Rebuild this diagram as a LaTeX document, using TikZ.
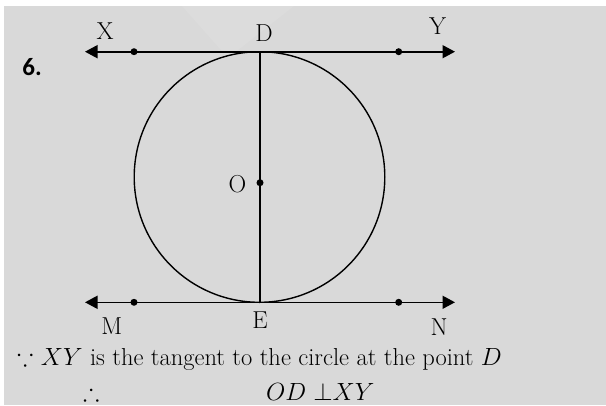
\documentclass[tikz,border=0pt]{standalone}
\usepackage{amssymb}
\usepackage{fontspec}
\newfontfamily\numfont{Carlito}
\usetikzlibrary{arrows.meta}
\definecolor{bgc}{RGB}{217,217,217}
\definecolor{wmk}{RGB}{220,220,220}
\begin{document}
\begin{tikzpicture}[x=1pt,y=-1pt,
  lbl/.style={inner sep=0pt,font=\fontsize{24.5}{24.5}\selectfont},
  txt/.style={inner sep=0pt,anchor=base west,font=\fontsize{24.5}{24.5}\selectfont},
  ln/.style={line width=1.6pt},
  bothtips/.style={{Triangle[length=12.5pt,width=13pt]}-{Triangle[length=12.5pt,width=13pt]}},
  dotc/.style={circle,fill=black,inner sep=0pt,minimum size=7pt}]
\useasboundingbox (0,0) rectangle (606,405);
\fill[white] (0,0) rectangle (606,405);
\fill[bgc] (4,6) rectangle (606,405);
\fill[wmk] (182,6) -- (228,58) -- (294,6) -- cycle;
% points
\coordinate (XL) at (85,51.7);
\coordinate (XR) at (455,51.7);
\coordinate (ML) at (85,302.3);
\coordinate (MR) at (455,302.3);
\coordinate (D) at (260,51.7);
\coordinate (E) at (260,302.3);
\coordinate (C) at (259.5,177);
% circle
\draw[line width=1.4pt] (C) circle (125.3);
% tangents
\draw[ln,bothtips] (XL) -- (XR);
\draw[ln,bothtips] (ML) -- (MR);
% diameter
\draw[line width=1.8pt] (D) -- (E);
% dots
\node[dotc] (P1) at (134,51.7) {};
\node[dotc] (P2) at (398.7,51.7) {};
\node[dotc] (P3) at (134,302.3) {};
\node[dotc] (P4) at (398.7,302.3) {};
\node[dotc] (O) at (260,182.7) {};
% labels
\node[lbl] (lX) at (105,31) {X};
\node[lbl] (lD) at (264,33.5) {D};
\node[lbl] (lY) at (437.7,26.5) {Y};
\node[lbl] (lO) at (237.5,183.7) {O};
\node[lbl] (lM) at (111.7,326.5) {M};
\node[lbl] (lE) at (260,320) {E};
\node[lbl] (lN) at (439,327.5) {N};
\node[inner sep=0pt,font=\fontsize{25}{25}\selectfont\numfont\bfseries] (six) at (32,67.5) {6.};
% text
\node[txt] (T1) at (17,365) {$\because$ $XY$ is the tangent to the circle at the point $D$};
\node[txt] (T2) at (83,400) {$\therefore$};
\node[txt] (T3) at (266,400) {$OD\;{\perp}XY$};
\end{tikzpicture}
\end{document}
